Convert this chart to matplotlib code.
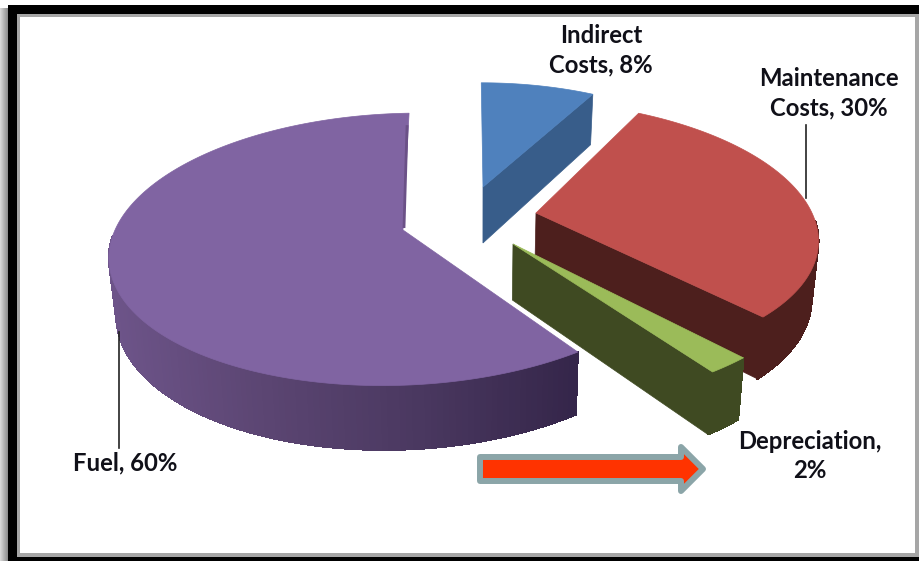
import numpy as np
import matplotlib
matplotlib.use("Agg")
import matplotlib.pyplot as plt
from matplotlib.collections import PolyCollection
from matplotlib.colors import LinearSegmentedColormap
from matplotlib.patches import Polygon, Rectangle

# chart data, clockwise from 12 o'clock
labels = ["Indirect\nCosts", "Maintenance\nCosts", "Depreciation,\n", "Fuel"]
percents = [8, 30, 2, 60]

# look of each slice: apex pixel, radii, shear (fake 3d projection)
apex = [(483, 187), (536, 213), (513, 244), (403, 230)]
rad_x = [260, 276, 306, 288]
rad_y = [119, 128, 140, 133.5]
shear = [-2, -20, 4, 18]
end_trim = [0, 0, 0, np.radians(2.2)]
top_colors = ["#4f81bd", "#c0504d", "#9bbb59", "#8064a2"]
side_colors = ["#385d8a", "#4d1f1d", "#3f4a22", None]
persp = 0.142

label_pos = [(601, 50), (829, 93), (810, 456), (125, 463)]


def rim(i, theta):
    s = 1 / (1 + persp * np.cos(theta))
    x = apex[i][0] + rad_x[i] * np.sin(theta) * s + shear[i] * np.cos(theta) * s
    y = apex[i][1] - rad_y[i] * np.cos(theta) * s
    return x, y, s


def drop(x, y, s):
    # bottom edge of the pie for a point on the top face
    return x - (x - 480) * 0.02, y + 56 + 50 * (s - 1)


fig = plt.figure(figsize=(9.2, 5.61), dpi=100)
ax = fig.add_axes([0, 0, 1, 1])
ax.axis("off")

# picture frame
ax.imshow([np.linspace(0.85, 0.55, 16)], cmap="gray", vmin=0, vmax=1, extent=(0, 8, 561, 8), aspect="auto")
ax.set_xlim(0, 920)
ax.set_ylim(561, 0)
ax.add_patch(Rectangle((8, 5), 912, 556, color="black", lw=0))
ax.add_patch(Rectangle((17, 14), 902, 543, color="#a6a6a6", lw=0))
ax.add_patch(Rectangle((20, 17), 895, 536, color="white", lw=0))

fuel_cmap = LinearSegmentedColormap.from_list("fuel", ["#6d5489", "#5b4572", "#4a3860", "#35264a"])

edges = np.cumsum([0] + percents) / sum(percents) * 2 * np.pi
for i in [3, 0, 1, 2]:
    th = np.linspace(edges[i], edges[i + 1] - end_trim[i], 200)
    x, y, s = rim(i, th)
    bx, by = drop(x, y, s)

    # outer wall as small quads, only the part facing the viewer
    quads = []
    xmid = []
    for j in range(len(th) - 1):
        if np.cos(th[j]) < -0.05:
            quads.append([(x[j], y[j]), (x[j + 1], y[j + 1]), (bx[j + 1], by[j + 1]), (bx[j], by[j])])
            xmid.append(x[j])
    if quads:
        if side_colors[i] is None:
            cols = fuel_cmap((np.array(xmid) - 110) / (577 - 110))
        else:
            cols = side_colors[i]
        ax.add_collection(PolyCollection(quads, facecolors=cols, edgecolors=cols, linewidths=0.8, antialiaseds=False))

    # cut faces that look towards the viewer
    ax0, ay0 = apex[i]
    abx, aby = drop(ax0, ay0, 1.0)
    if i in (0, 1, 2):
        ax.add_patch(Polygon([(ax0, ay0), (x[-1], y[-1]), (bx[-1], by[-1]), (abx, aby)], color=side_colors[i], lw=0.5))

    ax.add_patch(Polygon(np.column_stack([np.r_[ax0, x], np.r_[ay0, y]]), color=top_colors[i], lw=0.5))

    if i == 3:
        # thin dark sliver along the cut at 12 o'clock
        ax.plot([x[-1] - 2, ax0 + 1], [y[-1] + 12, ay0 - 2], color="#6b5187", lw=2, solid_capstyle="butt")

# leader lines
ax.plot([806, 806], [125, 198], color="#222222", lw=1.2)
ax.plot([119, 119], [332, 448], color="#222222", lw=1.2)

# data labels
for name, p, pos in zip(labels, percents, label_pos):
    if name.endswith("\n"):
        txt = f"{name}{p}%"
    else:
        txt = f"{name}, {p}%"
    ax.text(pos[0], pos[1], txt, ha="center", va="center", family="Lato", weight="bold",
            fontsize=17.2, color="#101018", linespacing=1.33)

# red arrow
arrow_pts = [(480, 457), (681, 457), (681, 447), (703, 469), (681, 491), (681, 481), (480, 481)]
ax.add_patch(Polygon(arrow_pts, facecolor="#ff3300", edgecolor="#8ba5a8", lw=4.3, joinstyle="round"))

fig.savefig("out.png", dpi=100)
